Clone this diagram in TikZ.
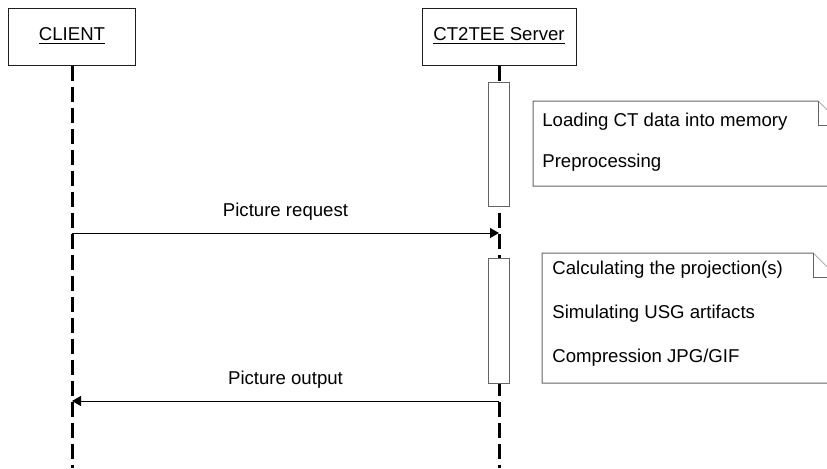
\documentclass[tikz,border=0pt]{standalone}
\usepackage{fontspec}
\setmainfont{Liberation Sans}
\usetikzlibrary{arrows.meta,calc,positioning}
\definecolor{sqline}{RGB}{30,30,30}
\definecolor{sqgray}{RGB}{100,100,100}
\newcommand{\sqfont}{\fontsize{9.3}{11}\selectfont}
\tikzset{
  actor/.style={draw=sqline,line width=0.5pt,minimum height=28.5pt,inner sep=0pt,font=\sqfont},
  lifeline/.style={line width=1.5pt,dash pattern=on 7.5pt off 3pt,draw=black},
  activation/.style={draw=sqgray,fill=white,line width=0.5pt,minimum width=10.5pt,inner sep=0pt},
  msg/.style={-{Triangle[length=4.5pt,width=5pt]},line width=0.5pt,draw=black},
  msglabel/.style={above=6pt,inner sep=0pt,font=\sqfont},
  notebox/.style={draw=sqgray,fill=white,line width=0.5pt},
  notetext/.style={anchor=base west,inner sep=0pt,font=\sqfont},
}

\begin{document}
\begin{tikzpicture}[x=0.5pt,y=-0.5pt]
  \useasboundingbox (0,0) rectangle (827,468);
  \clip (0,0) rectangle (827,468);

  % participants and lifelines
  \node[actor,minimum width=63.5pt] (client) at (72,36.5) {\underline{CLIENT}};
  \node[actor,minimum width=77pt] (server) at (499,36.5) {\underline{CT2TEE Server}};
  \coordinate (clientend) at (72,468);
  \coordinate (serverend) at (499,468);
  \draw[lifeline] (client.south) -- (clientend);
  \draw[lifeline] (server.south) -- (serverend);

  % server activity
  \node[activation,minimum height=62pt] (load) at (499,144) {};
  \node[activation,minimum height=62.5pt] (render) at (499,320.5) {};

  % notes with folded corner
  \draw[notebox] (533,101) -- (818,101) -- (842,125) -- (842,186) -- (533,186) -- cycle;
  \draw[notebox] (818,101) -- (818,125) -- (842,125);
  \node[notetext] (loading) at (542,126) {Loading CT data into memory};
  \node[notetext] (prep) at (542,167) {Preprocessing};

  \draw[notebox] (542,253) -- (813,253) -- (837,277) -- (837,383) -- (542,383) -- cycle;
  \draw[notebox] (813,253) -- (813,277) -- (837,277);
  \node[notetext] (proj) at (552,274) {Calculating the projection(s)};
  \node[notetext] (usg) at (552,318) {Simulating USG artifacts};
  \node[notetext] (jpg) at (552,362) {Compression JPG/GIF};

  % messages
  \coordinate (reqfrom) at (72,233);
  \coordinate (reqto) at (499,233);
  \coordinate (outfrom) at (499,401);
  \coordinate (outto) at (72,401);
  \draw[msg] (reqfrom) -- node[msglabel] (reqlabel) {Picture request} (reqto);
  \draw[msg] (outfrom) -- node[msglabel] (outlabel) {Picture output} (outto);
\end{tikzpicture}
\end{document}
